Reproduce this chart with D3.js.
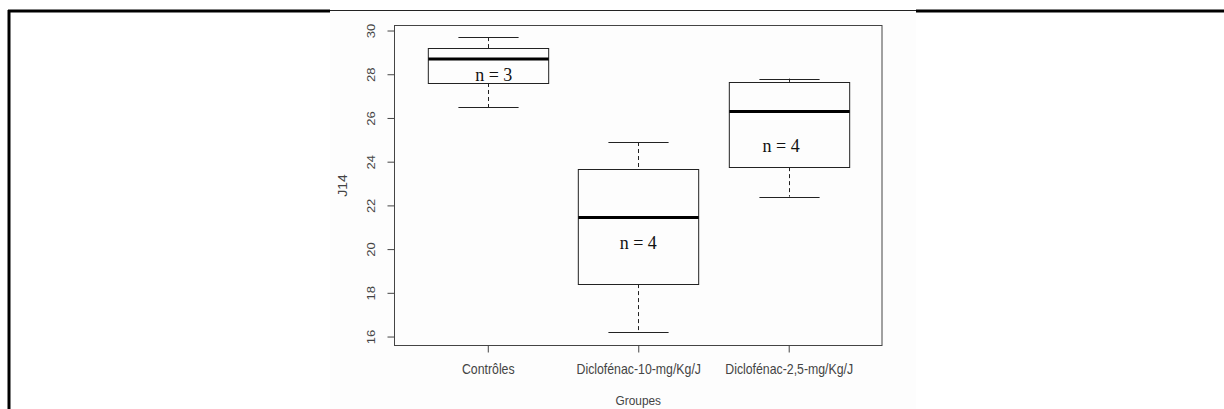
<!DOCTYPE html>
<html>
<head>
<meta charset="utf-8">
<script src="https://cdn.jsdelivr.net/npm/d3@7"></script>
<style>
  html, body { margin: 0; padding: 0; background: #fff; }
  svg { display: block; }
  .tick-label, .axis-title { font-family: "Liberation Sans", Arial, sans-serif; fill: #444; }
  .n-label { font-family: "Liberation Serif", "Times New Roman", serif; fill: #111; }
</style>
</head>
<body>
<svg id="chart" width="1224" height="409"></svg>
<script>
// Groups on the x axis
const groups = ["Contrôles", "Diclofénac-10-mg/Kg/J", "Diclofénac-2,5-mg/Kg/J"];
// Box statistics per group (J14)
const whiskerLow  = [26.5, 16.2, 22.4];
const quart1      = [27.6, 18.4, 23.75];
const medians     = [28.7, 21.45, 26.3];
const quart3      = [29.2, 23.65, 27.65];
const whiskerHigh = [29.7, 24.9, 27.8];
// Sample sizes written inside the boxes, and where they sit (group index, J14 value)
const nCounts = [3, 4, 4];
const nLabelX = [1.04, 2.0, 2.95];
const nLabelY = [27.97, 20.3, 24.7];
// Y axis ticks
const yTicks = [16, 18, 20, 22, 24, 26, 28, 30];
const yTitle = "J14";
const xTitle = "Groupes";

// Text in this figure is slightly condensed horizontally
const squeeze = 0.88;

const svg = d3.select("#chart");

// Page frame around the figure
svg.append("rect").attr("x", 330).attr("y", 11).attr("width", 586).attr("height", 398).attr("fill", "#fdfdfd");
svg.append("line").attr("x1", 9).attr("x2", 9).attr("y1", 10).attr("y2", 409)
  .attr("stroke", "#000").attr("stroke-width", 3);
svg.append("line").attr("x1", 8).attr("x2", 330).attr("y1", 11).attr("y2", 11)
  .attr("stroke", "#000").attr("stroke-width", 3);
svg.append("line").attr("x1", 916).attr("x2", 1224).attr("y1", 11).attr("y2", 11)
  .attr("stroke", "#000").attr("stroke-width", 3);
svg.append("line").attr("x1", 330).attr("x2", 916).attr("y1", 10.5).attr("y2", 10.5)
  .attr("stroke", "#222").attr("stroke-width", 1);

// Plot region
const plot = { left: 394.5, right: 882, top: 25.5, bottom: 345.5 };

const x = d3.scaleLinear().domain([0.38, 3.62]).range([plot.left, plot.right]);
const y = d3.scaleLinear().domain([15.59, 30.23]).range([plot.bottom, plot.top]);

const boxW = x(1.4) - x(1.0);   // half box width (0.8 total)
const capW = boxW / 2;

const g = svg.append("g");

// Boxes
groups.forEach((name, i) => {
  const cx = Math.round(x(i + 1)) + 0.5;
  // whiskers (dashed)
  g.append("line").attr("x1", cx).attr("x2", cx)
    .attr("y1", y(whiskerHigh[i])).attr("y2", y(quart3[i]))
    .attr("stroke", "#222").attr("stroke-dasharray", "4,3");
  g.append("line").attr("x1", cx).attr("x2", cx)
    .attr("y1", y(quart1[i])).attr("y2", y(whiskerLow[i]))
    .attr("stroke", "#222").attr("stroke-dasharray", "4,3");
  // caps
  [whiskerHigh[i], whiskerLow[i]].forEach(v => {
    g.append("line").attr("x1", cx - capW).attr("x2", cx + capW)
      .attr("y1", Math.round(y(v)) + 0.5).attr("y2", Math.round(y(v)) + 0.5)
      .attr("stroke", "#222");
  });
  // box
  const top = Math.round(y(quart3[i])) + 0.5;
  const bot = Math.round(y(quart1[i])) + 0.5;
  g.append("rect").attr("x", cx - boxW).attr("y", top)
    .attr("width", 2 * boxW).attr("height", bot - top)
    .attr("fill", "none").attr("stroke", "#222");
  // median
  g.append("line").attr("x1", cx - boxW).attr("x2", cx + boxW)
    .attr("y1", y(medians[i])).attr("y2", y(medians[i]))
    .attr("stroke", "#000").attr("stroke-width", 3);
  // sample size
  g.append("text").attr("class", "n-label")
    .attr("x", x(nLabelX[i])).attr("y", y(nLabelY[i]))
    .attr("text-anchor", "middle").attr("dominant-baseline", "central")
    .attr("font-size", 18)
    .text("n = " + nCounts[i]);
});

// Plot frame
svg.append("rect")
  .attr("x", plot.left).attr("y", plot.top)
  .attr("width", plot.right - plot.left).attr("height", plot.bottom - plot.top)
  .attr("fill", "none").attr("stroke", "#444");

// Y axis
const yAxis = d3.axisLeft(y).tickValues(yTicks).tickSize(7).tickPadding(0).tickFormat(d3.format("d"));
const yG = svg.append("g").attr("transform", `translate(${plot.left},0)`).call(yAxis);
yG.select(".domain").attr("stroke", "#444").attr("d", `M0,${y(16)}V${y(30)}`);
yG.selectAll(".tick line").attr("stroke", "#444");
yG.selectAll(".tick text")
  .attr("class", "tick-label")
  .attr("font-size", 13)
  .attr("x", 0).attr("y", 0)
  .attr("transform", `translate(-24,0) scale(${squeeze},1) rotate(-90)`)
  .attr("text-anchor", "middle")
  .attr("dy", "0.35em");

// X axis
const xAxis = d3.axisBottom(x).tickValues([1, 2, 3]).tickSize(7).tickPadding(10)
  .tickFormat((d) => groups[d - 1]);
const xG = svg.append("g").attr("transform", `translate(0,${plot.bottom})`).call(xAxis);
xG.select(".domain").remove();
xG.selectAll(".tick line").attr("stroke", "#444");
xG.selectAll(".tick text").attr("class", "tick-label").attr("font-size", 14)
  .attr("dy", "0.85em")
  .attr("transform", `scale(${squeeze},1)`);

// Axis titles
svg.append("text").attr("class", "axis-title")
  .attr("transform", `translate(347,${(plot.top + plot.bottom) / 2}) scale(${squeeze},1) rotate(-90)`)
  .attr("text-anchor", "middle").attr("font-size", 14)
  .text(yTitle);
svg.append("text").attr("class", "axis-title")
  .attr("transform", `translate(${(plot.left + plot.right) / 2},405) scale(${squeeze},1)`)
  .attr("text-anchor", "middle").attr("font-size", 13.5)
  .text(xTitle);
</script>
</body>
</html>
